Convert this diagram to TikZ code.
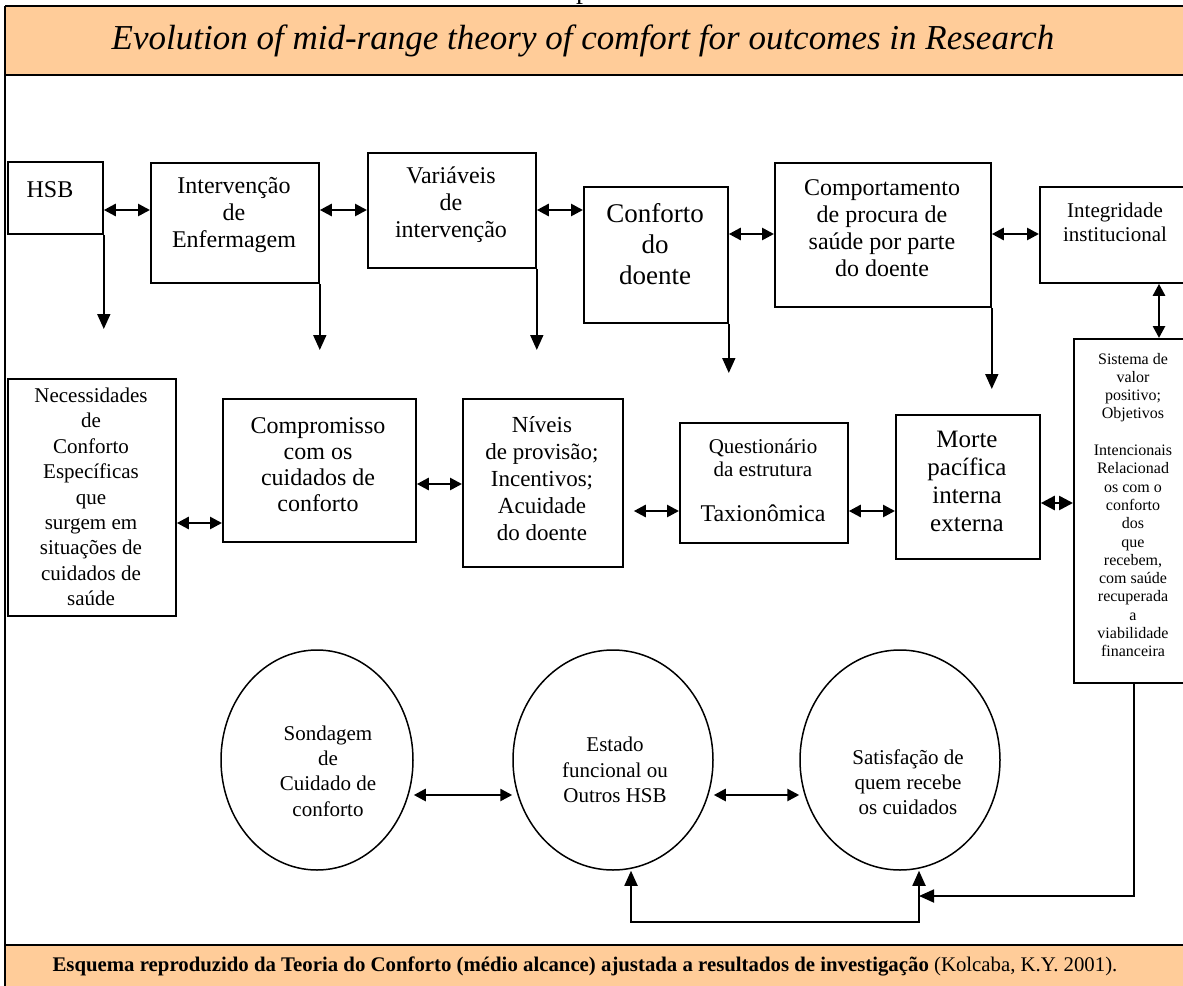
\documentclass[tikz,border=0pt]{standalone}
\usepackage{fontspec}
\setmainfont{Liberation Serif}
\usetikzlibrary{arrows.meta,shapes.geometric,calc}
\definecolor{peach}{HTML}{FFCC99}
\newcommand{\setfs}[2]{\fontsize{#1pt}{#2pt}\selectfont}

\begin{document}
\begin{tikzpicture}[x=1pt,y=-1pt,
  box/.style={draw,line width=1.8pt,inner sep=0pt,anchor=north west},
  lbl/.style={align=center,inner sep=0pt},
  oval/.style={draw,ellipse,line width=1.5pt,inner sep=0pt},
  link/.style={line width=2.6pt,{Triangle[length=12pt,width=12pt]}-{Triangle[length=12pt,width=12pt]}},
  drop/.style={line width=1.8pt,-{Triangle[length=15pt,width=13pt]}},
  loopline/.style={line width=1.8pt,{Triangle[length=15pt,width=13pt]}-{Triangle[length=15pt,width=13pt]}},
]
\useasboundingbox (0,0) rectangle (1183,985);
\clip (0,0) rectangle (1183,985);

% heading and credit bands, left frame line
\fill[peach] (5,6) rectangle (1200,75);
\fill[peach] (5,945) rectangle (1200,995);
\draw[line width=1.4pt] (5,6) -- (1200,6);
\draw[line width=2.6pt] (5,75) -- (1200,75);
\draw[line width=2.6pt] (5,945) -- (1200,945);
\draw[line width=1.4pt] (5,6) -- (5,995);

\node[anchor=base,inner sep=0pt,font=\setfs{28}{30}] (runhead) at (583,-1.5) {p};
\node[inner sep=0pt,font=\setfs{35}{42}\itshape] (title) at (583,41)
  {Evolution of mid-range theory of comfort for outcomes in Research};
\node[inner sep=0pt,font=\setfs{20.8}{24}] (credit) at (585,966)
  {\textbf{Esquema reproduzido da Teoria do Conforto (médio alcance) ajustada a resultados de investigação} (Kolcaba, K.Y. 2001).};

% top row of boxes
\node[box,minimum width=95pt,minimum height=72pt] (hsb) at (7,161) {};
\node[lbl,font=\setfs{24}{27}] (hsb-t) at (50,190) {HSB};
\node[box,minimum width=168pt,minimum height=120pt] (interv) at (150,162) {};
\node[lbl,font=\setfs{24}{27}] (interv-t) at (234,215) {Intervenção\\de\\Enfermagem};
\node[box,minimum width=168pt,minimum height=115pt] (vari) at (367,152) {};
\node[lbl,font=\setfs{24}{27}] (vari-t) at (451,205) {Variáveis\\de\\intervenção};
\node[box,minimum width=144pt,minimum height=136pt] (conf) at (583,186) {};
\node[lbl,font=\setfs{27}{31}] (conf-t) at (655,244) {Conforto\\do\\doente};
\node[box,minimum width=216pt,minimum height=144pt] (comp) at (774,162) {};
\node[lbl,font=\setfs{24}{27}] (comp-t) at (882,228) {Comportamento\\de procura de\\saúde por parte\\do doente};
\node[box,minimum width=170pt,minimum height=96pt] (integ) at (1039,186) {};
\node[lbl,font=\setfs{21}{24}] (integ-t) at (1115,222) {Integridade\\institucional};

% right column box
\node[box,minimum width=120pt,minimum height=344pt] (sis) at (1073,338) {};
\node[lbl,font=\setfs{16}{18.3}] (sis-t) at (1133,505)
  {Sistema de\\valor\\positivo;\\Objetivos\\ \\Intencionais\\Relacionad\\os com o\\conforto\\dos\\que\\recebem,\\com saúde\\recuperada\\a\\viabilidade\\financeira};

% middle row of boxes
\node[box,minimum width=168pt,minimum height=237pt] (nec) at (7,378) {};
\node[lbl,font=\setfs{21}{25.4}] (nec-t) at (91,497)
  {Necessidades\\de\\Conforto\\Específicas\\que\\surgem em\\situações de\\cuidados de\\saúde};
\node[box,minimum width=193pt,minimum height=143pt] (compr) at (222,398) {};
\node[lbl,font=\setfs{24}{26}] (compr-t) at (318,465) {Compromisso\\com os\\cuidados de\\conforto};
\node[box,minimum width=160pt,minimum height=168pt] (niv) at (462,398) {};
\node[lbl,font=\setfs{23}{27}] (niv-t) at (542,479) {Níveis\\de provisão;\\Incentivos;\\Acuidade\\do doente};
\node[box,minimum width=168pt,minimum height=120pt] (quest) at (679,422) {};
\node[lbl,font=\setfs{21}{23}] (quest-t) at (763,458) {Questionário\\da estrutura};
\node[lbl,font=\setfs{24}{27}] (quest-u) at (763,513) {Taxionômica};
\node[box,minimum width=144pt,minimum height=144pt] (morte) at (895,414) {};
\node[lbl,font=\setfs{25}{28}] (morte-t) at (967,481) {Morte\\pacífica\\interna\\externa};

% outcome ellipses
\node[oval,minimum width=192pt,minimum height=220pt] (son) at (317,760) {};
\node[lbl,font=\setfs{21}{25.3}] (son-t) at (328,771) {Sondagem\\de\\Cuidado de\\conforto};
\node[oval,minimum width=200pt,minimum height=220pt] (est) at (613,760) {};
\node[lbl,font=\setfs{21}{25.3}] (est-t) at (615,770) {Estado\\funcional ou\\Outros HSB};
\node[oval,minimum width=200pt,minimum height=220pt] (sat) at (900,760) {};
\node[lbl,font=\setfs{21}{25.3}] (sat-t) at (908,782) {Satisfação de\\quem recebe\\os cuidados};

% connector levels
\coordinate (lvA) at (0,210);
\coordinate (lvB) at (0,234);
\coordinate (lvC) at (0,523);
\coordinate (lvD) at (0,484);
\coordinate (lvE) at (0,511);
\coordinate (lvF) at (0,503);
\coordinate (lvG) at (0,795);
\coordinate (vx) at (1159,0);

% two-way links between neighbours
\draw[link] (hsb.east |- lvA) -- (interv.west |- lvA);
\draw[link] (interv.east |- lvA) -- (vari.west |- lvA);
\draw[link] (vari.east |- lvA) -- (conf.west |- lvA);
\draw[link] (conf.east |- lvB) -- (comp.west |- lvB);
\draw[link] (comp.east |- lvB) -- (integ.west |- lvB);
\draw[link] (integ.south -| vx) -- (sis.north -| vx);
\draw[link] (nec.east |- lvC) -- (compr.west |- lvC);
\draw[link] (compr.east |- lvD) -- (niv.west |- lvD);
\draw[link] ($(niv.east |- lvE)+(10,0)$) -- (quest.west |- lvE);
\draw[link] (quest.east |- lvE) -- (morte.west |- lvE);
\draw[link,{Triangle[length=14pt,width=14pt]}-{Triangle[length=14pt,width=14pt]}] (morte.east |- lvF) -- (sis.west |- lvF);
\draw[link] (son.east |- lvG) -- (est.west |- lvG);
\draw[link] (est.east |- lvG) -- (sat.west |- lvG);

% downward arrows
\coordinate (dnA) at (0,329);
\coordinate (dnB) at (0,350);
\coordinate (dnC) at (0,373);
\coordinate (dnD) at (0,389);
\draw[drop] (hsb.south east) -- (hsb.south east |- dnA);
\draw[drop] (interv.south east) -- (interv.south east |- dnB);
\draw[drop] (vari.south east) -- (vari.south east |- dnB);
\draw[drop] (conf.south east) -- (conf.south east |- dnC);
\draw[drop] (comp.south east) -- (comp.south east |- dnD);

% feedback loop under the ellipses
\coordinate (loopL) at (631,922);
\coordinate (loopR) at (919,922);
\coordinate (meet) at (919,896);
\draw[drop] (sis.south) |- (meet);
\draw[loopline] (est.south -| loopL) -- (loopL) -- (loopR) -- (sat.south -| loopR);
\end{tikzpicture}
\end{document}
